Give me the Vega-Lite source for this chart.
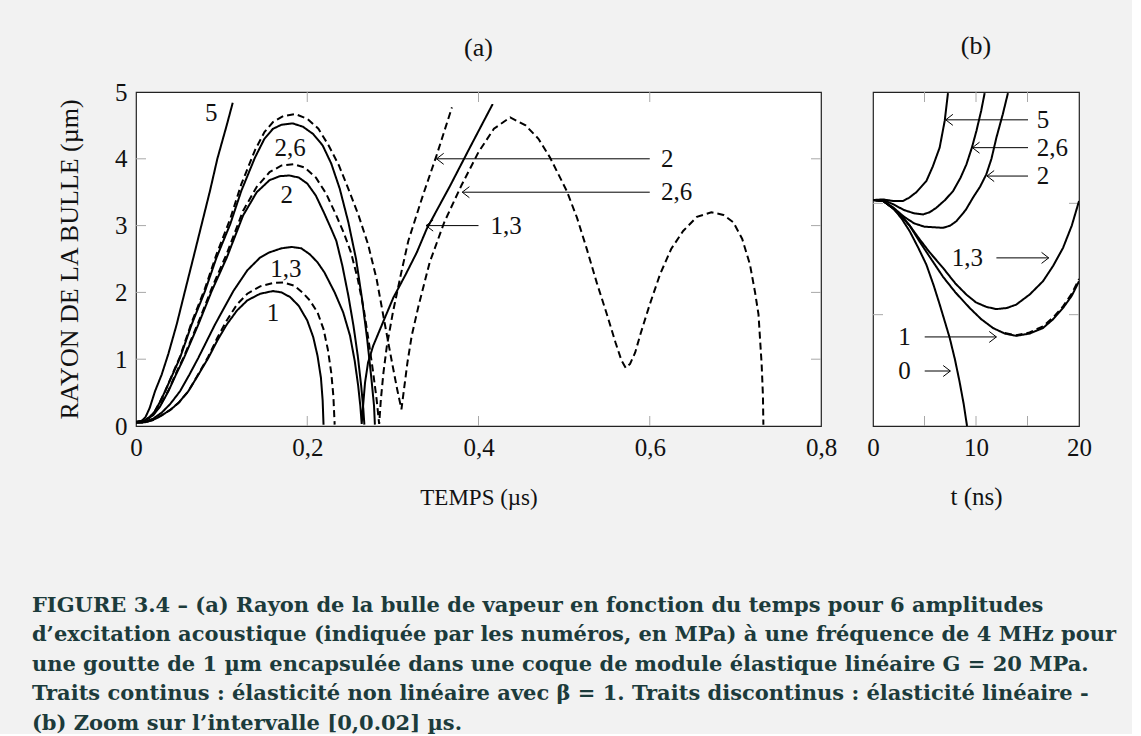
{
"$schema":"https://vega.github.io/schema/vega-lite/v6.json",
"background":"#f2f2f2",
"padding":{"left":31,"top":32,"right":15,"bottom":0},
"config":{
 "font":"Liberation Serif",
 "view":{"fill":"white","stroke":"#222","strokeWidth":1.2},
 "axis":{"labelFont":"Liberation Serif","labelFontSize":25,"labelColor":"#111","titleFont":"Liberation Serif","titleFontWeight":"normal","titleColor":"#111","domain":false,"grid":false,"ticks":false,"tickSize":0,"labelPadding":9,"labelFlush":false,"minExtent":0,"labelOverlap":false}
},
"title":{"text":["FIGURE 3.4 – (a) Rayon de la bulle de vapeur en fonction du temps pour 6 amplitudes","d’excitation acoustique (indiquée par les numéros, en MPa) à une fréquence de 4 MHz pour","une goutte de 1 µm encapsulée dans une coque de module élastique linéaire G = 20 MPa.","Traits continus : élasticité non linéaire avec β = 1. Traits discontinus : élasticité linéaire -","(b) Zoom sur l’intervalle [0,0.02] µs."],"orient":"bottom","anchor":"start","frame":"bounds","font":"DejaVu Serif","fontSize":21,"fontWeight":"bold","color":"#1c3b3b","lineHeight":29.5,"offset":85,"dx":-24},
"datasets":{
 "a":[
  {"s":"s5","st":"solid","x":0,"y":0.06},{"s":"s5","st":"solid","x":0.006,"y":0.07},{"s":"s5","st":"solid","x":0.011,"y":0.13},{"s":"s5","st":"solid","x":0.016,"y":0.27},{"s":"s5","st":"solid","x":0.0222,"y":0.52},{"s":"s5","st":"solid","x":0.03,"y":0.77},{"s":"s5","st":"solid","x":0.0378,"y":1.08},{"s":"s5","st":"solid","x":0.0475,"y":1.52},{"s":"s5","st":"solid","x":0.0572,"y":2.02},{"s":"s5","st":"solid","x":0.067,"y":2.52},{"s":"s5","st":"solid","x":0.0767,"y":3.02},{"s":"s5","st":"solid","x":0.0864,"y":3.52},{"s":"s5","st":"solid","x":0.095,"y":4.0},{"s":"s5","st":"solid","x":0.1059,"y":4.5},{"s":"s5","st":"solid","x":0.113,"y":4.84},

  {"s":"s26","st":"solid","x":0,"y":0.06},{"s":"s26","st":"solid","x":0.008,"y":0.07},{"s":"s26","st":"solid","x":0.015,"y":0.12},{"s":"s26","st":"solid","x":0.022,"y":0.22},{"s":"s26","st":"solid","x":0.028,"y":0.36},{"s":"s26","st":"solid","x":0.034,"y":0.52},{"s":"s26","st":"solid","x":0.042,"y":0.75},{"s":"s26","st":"solid","x":0.0514,"y":1.02},{"s":"s26","st":"solid","x":0.065,"y":1.52},{"s":"s26","st":"solid","x":0.0806,"y":2.02},{"s":"s26","st":"solid","x":0.094,"y":2.52},{"s":"s26","st":"solid","x":0.11,"y":3.02},{"s":"s26","st":"solid","x":0.123,"y":3.52},{"s":"s26","st":"solid","x":0.139,"y":4.02},{"s":"s26","st":"solid","x":0.15,"y":4.3},{"s":"s26","st":"solid","x":0.16,"y":4.45},{"s":"s26","st":"solid","x":0.17,"y":4.51},{"s":"s26","st":"solid","x":0.183,"y":4.53},{"s":"s26","st":"solid","x":0.195,"y":4.48},{"s":"s26","st":"solid","x":0.207,"y":4.37},{"s":"s26","st":"solid","x":0.218,"y":4.2},{"s":"s26","st":"solid","x":0.228,"y":3.93},{"s":"s26","st":"solid","x":0.238,"y":3.55},{"s":"s26","st":"solid","x":0.248,"y":3.05},{"s":"s26","st":"solid","x":0.257,"y":2.5},{"s":"s26","st":"solid","x":0.264,"y":1.9},{"s":"s26","st":"solid","x":0.27,"y":1.3},{"s":"s26","st":"solid","x":0.275,"y":0.7},{"s":"s26","st":"solid","x":0.278,"y":0.3},{"s":"s26","st":"solid","x":0.279,"y":0.02},

  {"s":"d26","st":"dashed","x":0,"y":0.06},{"s":"d26","st":"dashed","x":0.008,"y":0.07},{"s":"d26","st":"dashed","x":0.015,"y":0.12},{"s":"d26","st":"dashed","x":0.022,"y":0.22},{"s":"d26","st":"dashed","x":0.028,"y":0.36},{"s":"d26","st":"dashed","x":0.034,"y":0.52},{"s":"d26","st":"dashed","x":0.042,"y":0.76},{"s":"d26","st":"dashed","x":0.0514,"y":1.04},{"s":"d26","st":"dashed","x":0.065,"y":1.55},{"s":"d26","st":"dashed","x":0.0806,"y":2.06},{"s":"d26","st":"dashed","x":0.094,"y":2.57},{"s":"d26","st":"dashed","x":0.11,"y":3.1},{"s":"d26","st":"dashed","x":0.123,"y":3.62},{"s":"d26","st":"dashed","x":0.139,"y":4.13},{"s":"d26","st":"dashed","x":0.15,"y":4.4},{"s":"d26","st":"dashed","x":0.16,"y":4.55},{"s":"d26","st":"dashed","x":0.172,"y":4.64},{"s":"d26","st":"dashed","x":0.186,"y":4.67},{"s":"d26","st":"dashed","x":0.2,"y":4.6},{"s":"d26","st":"dashed","x":0.213,"y":4.45},{"s":"d26","st":"dashed","x":0.225,"y":4.2},{"s":"d26","st":"dashed","x":0.237,"y":3.9},{"s":"d26","st":"dashed","x":0.248,"y":3.55},{"s":"d26","st":"dashed","x":0.26,"y":3.15},{"s":"d26","st":"dashed","x":0.271,"y":2.72},{"s":"d26","st":"dashed","x":0.281,"y":2.2},{"s":"d26","st":"dashed","x":0.291,"y":1.5},{"s":"d26","st":"dashed","x":0.299,"y":0.95},{"s":"d26","st":"dashed","x":0.305,"y":0.55},{"s":"d26","st":"dashed","x":0.31,"y":0.25},{"s":"d26","st":"dashed","x":0.313,"y":0.55},{"s":"d26","st":"dashed","x":0.317,"y":0.95},{"s":"d26","st":"dashed","x":0.322,"y":1.35},{"s":"d26","st":"dashed","x":0.33,"y":1.8},{"s":"d26","st":"dashed","x":0.343,"y":2.45},{"s":"d26","st":"dashed","x":0.36,"y":3.05},{"s":"d26","st":"dashed","x":0.38,"y":3.6},{"s":"d26","st":"dashed","x":0.4,"y":4.1},{"s":"d26","st":"dashed","x":0.418,"y":4.45},{"s":"d26","st":"dashed","x":0.437,"y":4.62},{"s":"d26","st":"dashed","x":0.455,"y":4.5},{"s":"d26","st":"dashed","x":0.47,"y":4.3},{"s":"d26","st":"dashed","x":0.4835,"y":4.02},{"s":"d26","st":"dashed","x":0.503,"y":3.52},{"s":"d26","st":"dashed","x":0.515,"y":3.12},{"s":"d26","st":"dashed","x":0.526,"y":2.67},{"s":"d26","st":"dashed","x":0.538,"y":2.15},{"s":"d26","st":"dashed","x":0.55,"y":1.67},{"s":"d26","st":"dashed","x":0.56,"y":1.25},{"s":"d26","st":"dashed","x":0.567,"y":0.98},{"s":"d26","st":"dashed","x":0.572,"y":0.87},{"s":"d26","st":"dashed","x":0.577,"y":0.93},{"s":"d26","st":"dashed","x":0.583,"y":1.1},{"s":"d26","st":"dashed","x":0.589,"y":1.37},{"s":"d26","st":"dashed","x":0.6,"y":1.82},{"s":"d26","st":"dashed","x":0.612,"y":2.27},{"s":"d26","st":"dashed","x":0.625,"y":2.65},{"s":"d26","st":"dashed","x":0.639,"y":2.92},{"s":"d26","st":"dashed","x":0.655,"y":3.13},{"s":"d26","st":"dashed","x":0.672,"y":3.2},{"s":"d26","st":"dashed","x":0.686,"y":3.16},{"s":"d26","st":"dashed","x":0.6976,"y":3.05},{"s":"d26","st":"dashed","x":0.708,"y":2.8},{"s":"d26","st":"dashed","x":0.717,"y":2.42},{"s":"d26","st":"dashed","x":0.723,"y":2.0},{"s":"d26","st":"dashed","x":0.727,"y":1.67},{"s":"d26","st":"dashed","x":0.7307,"y":0.92},{"s":"d26","st":"dashed","x":0.7322,"y":0.45},{"s":"d26","st":"dashed","x":0.7327,"y":0.02},

  {"s":"d2","st":"dashed","x":0,"y":0.06},{"s":"d2","st":"dashed","x":0.01,"y":0.08},{"s":"d2","st":"dashed","x":0.02,"y":0.17},{"s":"d2","st":"dashed","x":0.028,"y":0.3},{"s":"d2","st":"dashed","x":0.0378,"y":0.53},{"s":"d2","st":"dashed","x":0.046,"y":0.77},{"s":"d2","st":"dashed","x":0.056,"y":1.04},{"s":"d2","st":"dashed","x":0.0728,"y":1.55},{"s":"d2","st":"dashed","x":0.0884,"y":2.06},{"s":"d2","st":"dashed","x":0.106,"y":2.58},{"s":"d2","st":"dashed","x":0.125,"y":3.22},{"s":"d2","st":"dashed","x":0.141,"y":3.58},{"s":"d2","st":"dashed","x":0.156,"y":3.8},{"s":"d2","st":"dashed","x":0.17,"y":3.9},{"s":"d2","st":"dashed","x":0.184,"y":3.92},{"s":"d2","st":"dashed","x":0.197,"y":3.87},{"s":"d2","st":"dashed","x":0.21,"y":3.72},{"s":"d2","st":"dashed","x":0.222,"y":3.48},{"s":"d2","st":"dashed","x":0.234,"y":3.15},{"s":"d2","st":"dashed","x":0.243,"y":2.88},{"s":"d2","st":"dashed","x":0.251,"y":2.6},{"s":"d2","st":"dashed","x":0.259,"y":2.2},{"s":"d2","st":"dashed","x":0.266,"y":1.75},{"s":"d2","st":"dashed","x":0.272,"y":1.25},{"s":"d2","st":"dashed","x":0.277,"y":0.8},{"s":"d2","st":"dashed","x":0.281,"y":0.4},{"s":"d2","st":"dashed","x":0.284,"y":0.03},{"s":"d2","st":"dashed","x":0.286,"y":0.4},{"s":"d2","st":"dashed","x":0.289,"y":0.8},{"s":"d2","st":"dashed","x":0.293,"y":1.2},{"s":"d2","st":"dashed","x":0.3,"y":1.7},{"s":"d2","st":"dashed","x":0.309,"y":2.25},{"s":"d2","st":"dashed","x":0.318,"y":2.77},{"s":"d2","st":"dashed","x":0.335,"y":3.45},{"s":"d2","st":"dashed","x":0.351,"y":4.05},{"s":"d2","st":"dashed","x":0.369,"y":4.77},

  {"s":"s2","st":"solid","x":0,"y":0.06},{"s":"s2","st":"solid","x":0.01,"y":0.08},{"s":"s2","st":"solid","x":0.02,"y":0.16},{"s":"s2","st":"solid","x":0.028,"y":0.29},{"s":"s2","st":"solid","x":0.0378,"y":0.52},{"s":"s2","st":"solid","x":0.046,"y":0.75},{"s":"s2","st":"solid","x":0.056,"y":1.02},{"s":"s2","st":"solid","x":0.0728,"y":1.52},{"s":"s2","st":"solid","x":0.0884,"y":2.02},{"s":"s2","st":"solid","x":0.106,"y":2.52},{"s":"s2","st":"solid","x":0.125,"y":3.15},{"s":"s2","st":"solid","x":0.141,"y":3.5},{"s":"s2","st":"solid","x":0.156,"y":3.68},{"s":"s2","st":"solid","x":0.168,"y":3.74},{"s":"s2","st":"solid","x":0.179,"y":3.75},{"s":"s2","st":"solid","x":0.19,"y":3.72},{"s":"s2","st":"solid","x":0.2,"y":3.63},{"s":"s2","st":"solid","x":0.21,"y":3.45},{"s":"s2","st":"solid","x":0.22,"y":3.18},{"s":"s2","st":"solid","x":0.228,"y":2.95},{"s":"s2","st":"solid","x":0.234,"y":2.77},{"s":"s2","st":"solid","x":0.241,"y":2.4},{"s":"s2","st":"solid","x":0.248,"y":1.95},{"s":"s2","st":"solid","x":0.254,"y":1.5},{"s":"s2","st":"solid","x":0.259,"y":1.05},{"s":"s2","st":"solid","x":0.263,"y":0.6},{"s":"s2","st":"solid","x":0.2655,"y":0.25},{"s":"s2","st":"solid","x":0.2667,"y":0.02},

  {"s":"s13","st":"solid","x":0,"y":0.05},{"s":"s13","st":"solid","x":0.01,"y":0.06},{"s":"s13","st":"solid","x":0.02,"y":0.11},{"s":"s13","st":"solid","x":0.03,"y":0.2},{"s":"s13","st":"solid","x":0.04,"y":0.33},{"s":"s13","st":"solid","x":0.0514,"y":0.52},{"s":"s13","st":"solid","x":0.062,"y":0.76},{"s":"s13","st":"solid","x":0.0728,"y":1.02},{"s":"s13","st":"solid","x":0.0923,"y":1.52},{"s":"s13","st":"solid","x":0.1137,"y":2.02},{"s":"s13","st":"solid","x":0.13,"y":2.33},{"s":"s13","st":"solid","x":0.1448,"y":2.52},{"s":"s13","st":"solid","x":0.156,"y":2.6},{"s":"s13","st":"solid","x":0.17,"y":2.66},{"s":"s13","st":"solid","x":0.182,"y":2.68},{"s":"s13","st":"solid","x":0.193,"y":2.66},{"s":"s13","st":"solid","x":0.203,"y":2.57},{"s":"s13","st":"solid","x":0.212,"y":2.45},{"s":"s13","st":"solid","x":0.22,"y":2.3},{"s":"s13","st":"solid","x":0.232,"y":2.0},{"s":"s13","st":"solid","x":0.242,"y":1.7},{"s":"s13","st":"solid","x":0.25,"y":1.35},{"s":"s13","st":"solid","x":0.2555,"y":0.97},{"s":"s13","st":"solid","x":0.2595,"y":0.6},{"s":"s13","st":"solid","x":0.262,"y":0.3},{"s":"s13","st":"solid","x":0.2636,"y":0.03},{"s":"s13","st":"solid","x":0.2652,"y":0.3},{"s":"s13","st":"solid","x":0.2675,"y":0.65},{"s":"s13","st":"solid","x":0.271,"y":0.95},{"s":"s13","st":"solid","x":0.277,"y":1.2},{"s":"s13","st":"solid","x":0.29,"y":1.6},{"s":"s13","st":"solid","x":0.3005,"y":1.92},{"s":"s13","st":"solid","x":0.315,"y":2.27},{"s":"s13","st":"solid","x":0.328,"y":2.6},{"s":"s13","st":"solid","x":0.3395,"y":2.95},{"s":"s13","st":"solid","x":0.367,"y":3.6},{"s":"s13","st":"solid","x":0.39,"y":4.17},{"s":"s13","st":"solid","x":0.4166,"y":4.82},

  {"s":"s1","st":"solid","x":0,"y":0.05},{"s":"s1","st":"solid","x":0.01,"y":0.055},{"s":"s1","st":"solid","x":0.02,"y":0.09},{"s":"s1","st":"solid","x":0.03,"y":0.16},{"s":"s1","st":"solid","x":0.04,"y":0.24},{"s":"s1","st":"solid","x":0.05,"y":0.35},{"s":"s1","st":"solid","x":0.0611,"y":0.52},{"s":"s1","st":"solid","x":0.072,"y":0.75},{"s":"s1","st":"solid","x":0.0845,"y":1.02},{"s":"s1","st":"solid","x":0.095,"y":1.28},{"s":"s1","st":"solid","x":0.106,"y":1.52},{"s":"s1","st":"solid","x":0.118,"y":1.73},{"s":"s1","st":"solid","x":0.13,"y":1.88},{"s":"s1","st":"solid","x":0.145,"y":1.98},{"s":"s1","st":"solid","x":0.16,"y":2.02},{"s":"s1","st":"solid","x":0.17,"y":2.0},{"s":"s1","st":"solid","x":0.18,"y":1.93},{"s":"s1","st":"solid","x":0.19,"y":1.8},{"s":"s1","st":"solid","x":0.2,"y":1.58},{"s":"s1","st":"solid","x":0.207,"y":1.33},{"s":"s1","st":"solid","x":0.212,"y":1.05},{"s":"s1","st":"solid","x":0.216,"y":0.72},{"s":"s1","st":"solid","x":0.218,"y":0.38},{"s":"s1","st":"solid","x":0.219,"y":0.02},

  {"s":"d13","st":"dashed","x":0,"y":0.05},{"s":"d13","st":"dashed","x":0.01,"y":0.055},{"s":"d13","st":"dashed","x":0.02,"y":0.09},{"s":"d13","st":"dashed","x":0.03,"y":0.16},{"s":"d13","st":"dashed","x":0.04,"y":0.24},{"s":"d13","st":"dashed","x":0.05,"y":0.35},{"s":"d13","st":"dashed","x":0.0611,"y":0.52},{"s":"d13","st":"dashed","x":0.072,"y":0.76},{"s":"d13","st":"dashed","x":0.0845,"y":1.04},{"s":"d13","st":"dashed","x":0.095,"y":1.32},{"s":"d13","st":"dashed","x":0.106,"y":1.58},{"s":"d13","st":"dashed","x":0.118,"y":1.82},{"s":"d13","st":"dashed","x":0.13,"y":1.98},{"s":"d13","st":"dashed","x":0.145,"y":2.09},{"s":"d13","st":"dashed","x":0.16,"y":2.14},{"s":"d13","st":"dashed","x":0.172,"y":2.15},{"s":"d13","st":"dashed","x":0.185,"y":2.1},{"s":"d13","st":"dashed","x":0.195,"y":1.99},{"s":"d13","st":"dashed","x":0.203,"y":1.88},{"s":"d13","st":"dashed","x":0.212,"y":1.7},{"s":"d13","st":"dashed","x":0.219,"y":1.45},{"s":"d13","st":"dashed","x":0.224,"y":1.15},{"s":"d13","st":"dashed","x":0.228,"y":0.8},{"s":"d13","st":"dashed","x":0.2305,"y":0.45},{"s":"d13","st":"dashed","x":0.232,"y":0.02}
 ],
 "b":[
  {"s":"b5","st":"solid","x":0,"y":2.03},{"s":"b5","st":"solid","x":1,"y":2.035},{"s":"b5","st":"solid","x":2,"y":2.02},{"s":"b5","st":"solid","x":2.9,"y":2.02},{"s":"b5","st":"solid","x":3.5,"y":2.05},{"s":"b5","st":"solid","x":4.21,"y":2.1},{"s":"b5","st":"solid","x":4.7,"y":2.15},{"s":"b5","st":"solid","x":5.18,"y":2.2},{"s":"b5","st":"solid","x":5.8,"y":2.33},{"s":"b5","st":"solid","x":6.47,"y":2.5},{"s":"b5","st":"solid","x":6.96,"y":2.74},{"s":"b5","st":"solid","x":7.28,"y":2.99},
  {"s":"b26","st":"solid","x":0,"y":2.03},{"s":"b26","st":"solid","x":1,"y":2.03},{"s":"b26","st":"solid","x":2,"y":1.99},{"s":"b26","st":"solid","x":3,"y":1.94},{"s":"b26","st":"solid","x":4,"y":1.91},{"s":"b26","st":"solid","x":4.85,"y":1.9},{"s":"b26","st":"solid","x":5.5,"y":1.92},{"s":"b26","st":"solid","x":6.15,"y":1.96},{"s":"b26","st":"solid","x":7,"y":2.03},{"s":"b26","st":"solid","x":7.77,"y":2.11},{"s":"b26","st":"solid","x":8.5,"y":2.23},{"s":"b26","st":"solid","x":9.07,"y":2.35},{"s":"b26","st":"solid","x":9.6,"y":2.5},{"s":"b26","st":"solid","x":10.04,"y":2.65},{"s":"b26","st":"solid","x":10.5,"y":2.83},{"s":"b26","st":"solid","x":10.84,"y":2.99},
  {"s":"b2","st":"solid","x":0,"y":2.03},{"s":"b2","st":"solid","x":1,"y":2.02},{"s":"b2","st":"solid","x":2,"y":1.96},{"s":"b2","st":"solid","x":3,"y":1.88},{"s":"b2","st":"solid","x":4,"y":1.82},{"s":"b2","st":"solid","x":5,"y":1.79},{"s":"b2","st":"solid","x":6.8,"y":1.78},{"s":"b2","st":"solid","x":7.5,"y":1.8},{"s":"b2","st":"solid","x":8.1,"y":1.84},{"s":"b2","st":"solid","x":9,"y":1.94},{"s":"b2","st":"solid","x":9.7,"y":2.05},{"s":"b2","st":"solid","x":10.4,"y":2.15},{"s":"b2","st":"solid","x":11,"y":2.26},{"s":"b2","st":"solid","x":11.5,"y":2.4},{"s":"b2","st":"solid","x":11.98,"y":2.59},{"s":"b2","st":"solid","x":12.6,"y":2.8},{"s":"b2","st":"solid","x":13.1,"y":2.99},
  {"s":"b13","st":"solid","x":0,"y":2.03},{"s":"b13","st":"solid","x":1,"y":2.02},{"s":"b13","st":"solid","x":2,"y":1.95},{"s":"b13","st":"solid","x":3,"y":1.86},{"s":"b13","st":"solid","x":3.56,"y":1.8},{"s":"b13","st":"solid","x":4.5,"y":1.68},{"s":"b13","st":"solid","x":5.5,"y":1.56},{"s":"b13","st":"solid","x":6.8,"y":1.42},{"s":"b13","st":"solid","x":8,"y":1.28},{"s":"b13","st":"solid","x":9.07,"y":1.18},{"s":"b13","st":"solid","x":10,"y":1.11},{"s":"b13","st":"solid","x":11,"y":1.07},{"s":"b13","st":"solid","x":11.98,"y":1.05},{"s":"b13","st":"solid","x":13,"y":1.06},{"s":"b13","st":"solid","x":13.9,"y":1.09},{"s":"b13","st":"solid","x":15.2,"y":1.18},{"s":"b13","st":"solid","x":16.5,"y":1.3},{"s":"b13","st":"solid","x":17.5,"y":1.44},{"s":"b13","st":"solid","x":18.45,"y":1.6},{"s":"b13","st":"solid","x":19.3,"y":1.8},{"s":"b13","st":"solid","x":20,"y":2.02},
  {"s":"b1","st":"solid","x":0,"y":2.03},{"s":"b1","st":"solid","x":1,"y":2.02},{"s":"b1","st":"solid","x":2,"y":1.95},{"s":"b1","st":"solid","x":3,"y":1.86},{"s":"b1","st":"solid","x":3.56,"y":1.8},{"s":"b1","st":"solid","x":4.5,"y":1.66},{"s":"b1","st":"solid","x":5.5,"y":1.52},{"s":"b1","st":"solid","x":6.8,"y":1.34},{"s":"b1","st":"solid","x":8,"y":1.2},{"s":"b1","st":"solid","x":9.39,"y":1.06},{"s":"b1","st":"solid","x":10.5,"y":0.96},{"s":"b1","st":"solid","x":11.65,"y":0.88},{"s":"b1","st":"solid","x":12.8,"y":0.83},{"s":"b1","st":"solid","x":13.9,"y":0.81},{"s":"b1","st":"solid","x":15.2,"y":0.83},{"s":"b1","st":"solid","x":16.5,"y":0.88},{"s":"b1","st":"solid","x":17.5,"y":0.96},{"s":"b1","st":"solid","x":18.45,"y":1.06},{"s":"b1","st":"solid","x":19.3,"y":1.17},{"s":"b1","st":"solid","x":20,"y":1.3},
  {"s":"b1d","st":"dashed","x":12.8,"y":0.835},{"s":"b1d","st":"dashed","x":13.9,"y":0.815},{"s":"b1d","st":"dashed","x":15.2,"y":0.84},{"s":"b1d","st":"dashed","x":16.5,"y":0.895},{"s":"b1d","st":"dashed","x":17.5,"y":0.975},{"s":"b1d","st":"dashed","x":18.45,"y":1.075},{"s":"b1d","st":"dashed","x":19.3,"y":1.19},{"s":"b1d","st":"dashed","x":20,"y":1.32},
  {"s":"b0","st":"solid","x":0,"y":2.03},{"s":"b0","st":"solid","x":1,"y":2.02},{"s":"b0","st":"solid","x":1.94,"y":1.96},{"s":"b0","st":"solid","x":2.8,"y":1.86},{"s":"b0","st":"solid","x":3.56,"y":1.75},{"s":"b0","st":"solid","x":4.4,"y":1.6},{"s":"b0","st":"solid","x":5.18,"y":1.45},{"s":"b0","st":"solid","x":5.9,"y":1.26},{"s":"b0","st":"solid","x":6.48,"y":1.09},{"s":"b0","st":"solid","x":7,"y":0.93},{"s":"b0","st":"solid","x":7.45,"y":0.79},{"s":"b0","st":"solid","x":7.95,"y":0.6},{"s":"b0","st":"solid","x":8.4,"y":0.4},{"s":"b0","st":"solid","x":8.8,"y":0.2},{"s":"b0","st":"solid","x":9.13,"y":0.0}
 ],
 "tickA":[{"sd":"L","x":0,"y":1},{"sd":"L","x":0,"y":2},{"sd":"L","x":0,"y":3},{"sd":"L","x":0,"y":4},{"sd":"R","x":0.8,"y":1},{"sd":"R","x":0.8,"y":2},{"sd":"R","x":0.8,"y":3},{"sd":"R","x":0.8,"y":4},{"sd":"B","x":0.2,"y":0},{"sd":"B","x":0.4,"y":0},{"sd":"B","x":0.6,"y":0},{"sd":"T","x":0.2,"y":5},{"sd":"T","x":0.4,"y":5},{"sd":"T","x":0.6,"y":5}],
 "tickB":[{"sd":"L","x":0,"y":1},{"sd":"L","x":0,"y":2},{"sd":"R","x":20,"y":1},{"sd":"R","x":20,"y":2},{"sd":"B","x":5,"y":0},{"sd":"B","x":10,"y":0},{"sd":"B","x":15,"y":0},{"sd":"T","x":5,"y":3},{"sd":"T","x":10,"y":3},{"sd":"T","x":15,"y":3}],
 "arrA":[{"x1":0.6,"x2":0.351,"y":4.0},{"x1":0.6,"x2":0.381,"y":3.5},{"x1":0.4,"x2":0.3387,"y":3.0}],
 "labA":[{"t":"5","x":0.088,"y":4.69,"al":"c"},{"t":"2,6","x":0.18,"y":4.16,"al":"c"},{"t":"2","x":0.176,"y":3.46,"al":"c"},{"t":"1,3","x":0.175,"y":2.35,"al":"c"},{"t":"1","x":0.16,"y":1.69,"al":"c"},{"t":"2","x":0.613,"y":4.0,"al":"l"},{"t":"2,6","x":0.613,"y":3.5,"al":"l"},{"t":"1,3","x":0.414,"y":3.0,"al":"l"}],
 "arrB":[{"x1":15.05,"x2":7.06,"y":2.75,"d":"L"},{"x1":15.05,"x2":9.65,"y":2.5,"d":"L"},{"x1":15.05,"x2":11.07,"y":2.245,"d":"L"},{"x1":11.98,"x2":17.06,"y":1.51,"d":"R"},{"x1":5.02,"x2":11.98,"y":0.8,"d":"R"},{"x1":5.02,"x2":7.51,"y":0.494,"d":"R"}],
 "labB":[{"t":"5","x":15.9,"y":2.75},{"t":"2,6","x":15.9,"y":2.5},{"t":"2","x":15.9,"y":2.245},{"t":"1,3","x":7.65,"y":1.51},{"t":"1","x":2.45,"y":0.8},{"t":"0","x":2.45,"y":0.494}]
},
"bounds":"flush",
"spacing":52,
"hconcat":[
 {
  "width":685,"height":334,
  "title":{"text":"(a)","font":"Liberation Serif","fontSize":26,"fontWeight":"normal","color":"#111","offset":19},
  "layer":[
   {"data":{"name":"tickA"},"mark":{"type":"point","filled":false,"size":100,"color":"#a8a8a8","strokeWidth":1,"opacity":1},
    "encoding":{"x":{"field":"x","type":"quantitative","scale":{"domain":[0,0.8],"nice":false},"axis":{"orient":"bottom","values":[0,0.2,0.4,0.6,0.8],"labelExpr":"datum.value == 0 ? '0' : replace(format(datum.value, '.1f'), '.', ',')","title":"TEMPS (µs)","titleFontSize":23,"titlePadding":26}},
     "y":{"field":"y","type":"quantitative","scale":{"domain":[0,5],"nice":false},"axis":{"orient":"left","values":[0,1,2,3,4,5],"format":"d","title":"RAYON DE LA BULLE (µm)","titleFontSize":26,"titlePadding":32}},
     "shape":{"field":"sd","type":"nominal","scale":{"domain":["L","R","B","T"],"range":["M0,0L2,0","M0,0L-2,0","M0,0L0,-2","M0,0L0,2"]},"legend":null}}},
   {"data":{"name":"a"},"mark":{"type":"line","color":"black","strokeWidth":2,"clip":true},
    "encoding":{
     "x":{"field":"x","type":"quantitative"},
     "y":{"field":"y","type":"quantitative"},
     "detail":{"field":"s"},
     "strokeDash":{"field":"st","type":"nominal","scale":{"domain":["solid","dashed"],"range":[[1,0],[7,4]]},"legend":null}
    }},
   {"data":{"name":"arrA"},"mark":{"type":"rule","color":"black","strokeWidth":1},
    "encoding":{"x":{"field":"x1","type":"quantitative"},"x2":{"field":"x2"},"y":{"field":"y","type":"quantitative"}}},
   {"data":{"name":"arrA"},"mark":{"type":"point","shape":"M1.3,-1L0,0L1.3,1","size":121,"color":"black","filled":false,"strokeWidth":1,"opacity":1},
    "encoding":{"x":{"field":"x2","type":"quantitative"},"y":{"field":"y","type":"quantitative"}}},
   {"data":{"name":"labA"},"transform":[{"filter":"datum.al == 'l'"}],"mark":{"type":"text","align":"left","baseline":"middle","font":"Liberation Serif","fontSize":25,"color":"#111"},
    "encoding":{"x":{"field":"x","type":"quantitative"},"y":{"field":"y","type":"quantitative"},"text":{"field":"t"}}},
   {"data":{"name":"labA"},"transform":[{"filter":"datum.al == 'c'"}],"mark":{"type":"text","align":"center","baseline":"middle","font":"Liberation Serif","fontSize":25,"color":"#111"},
    "encoding":{"x":{"field":"x","type":"quantitative"},"y":{"field":"y","type":"quantitative"},"text":{"field":"t"}}}
  ]
 },
 {
  "width":206,"height":334,
  "title":{"text":"(b)","font":"Liberation Serif","fontSize":26,"fontWeight":"normal","color":"#111","offset":31},
  "layer":[
   {"data":{"name":"tickB"},"mark":{"type":"point","filled":false,"size":100,"color":"#a8a8a8","strokeWidth":1,"opacity":1},
    "encoding":{"x":{"field":"x","type":"quantitative","scale":{"domain":[0,20],"nice":false},"axis":{"orient":"bottom","values":[0,5,10,15,20],"labelExpr":"datum.value % 10 == 0 ? datum.label : ''","title":"t (ns)","titleFontSize":25,"titlePadding":24}},
     "y":{"field":"y","type":"quantitative","scale":{"domain":[0,3],"nice":false},"axis":null},
     "shape":{"field":"sd","type":"nominal","scale":{"domain":["L","R","B","T"],"range":["M0,0L2,0","M0,0L-2,0","M0,0L0,-2","M0,0L0,2"]},"legend":null}}},
   {"data":{"name":"b"},"mark":{"type":"line","color":"black","strokeWidth":2,"clip":true},
    "encoding":{
     "x":{"field":"x","type":"quantitative"},
     "y":{"field":"y","type":"quantitative"},
     "detail":{"field":"s"},
     "strokeDash":{"field":"st","type":"nominal","scale":{"domain":["solid","dashed"],"range":[[1,0],[4,3]]},"legend":null}
    }},
   {"data":{"name":"arrB"},"mark":{"type":"rule","color":"black","strokeWidth":1},
    "encoding":{"x":{"field":"x1","type":"quantitative"},"x2":{"field":"x2"},"y":{"field":"y","type":"quantitative"}}},
   {"data":{"name":"arrB"},"transform":[{"filter":"datum.d == 'L'"}],"mark":{"type":"point","shape":"M1.3,-1L0,0L1.3,1","size":121,"color":"black","filled":false,"strokeWidth":1,"opacity":1},
    "encoding":{"x":{"field":"x2","type":"quantitative"},"y":{"field":"y","type":"quantitative"}}},
   {"data":{"name":"arrB"},"transform":[{"filter":"datum.d == 'R'"}],"mark":{"type":"point","shape":"M-1.3,-1L0,0L-1.3,1","size":121,"color":"black","filled":false,"strokeWidth":1,"opacity":1},
    "encoding":{"x":{"field":"x2","type":"quantitative"},"y":{"field":"y","type":"quantitative"}}},
   {"data":{"name":"labB"},"mark":{"type":"text","align":"left","baseline":"middle","font":"Liberation Serif","fontSize":25,"color":"#111"},
    "encoding":{"x":{"field":"x","type":"quantitative"},"y":{"field":"y","type":"quantitative"},"text":{"field":"t"}}}
  ]
 }
]
}
